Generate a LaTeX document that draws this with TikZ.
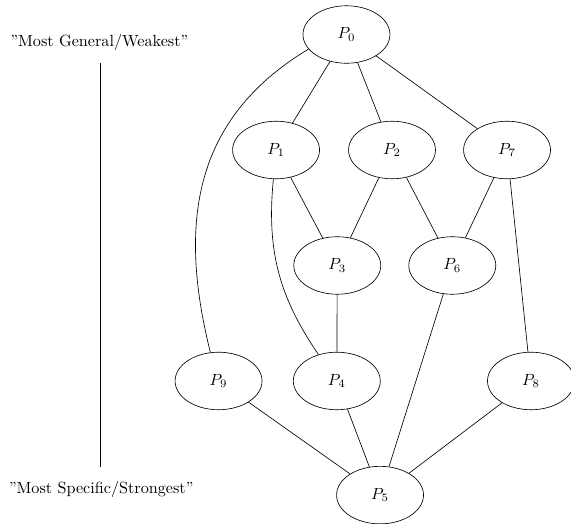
\documentclass[tikz,border=0pt]{standalone}
\usepackage{tikz}
\usetikzlibrary{positioning}
\usetikzlibrary{arrows,shapes}
\usetikzlibrary{calc}
\tikzstyle{vertex}=[ellipse,draw,minimum width=1.89cm,minimum height=1.25cm,inner sep=0pt]
\tikzstyle{edge} = [draw]
\tikzstyle{caption} = [inner sep=0pt]

\begin{document}
\begin{tikzpicture}[scale=1, auto,swap]
    \useasboundingbox (0,0) rectangle (12.41,-11.37);

    \foreach \pos/\name/\num in {{(7.53,-0.75)/p0/0}, {(6.00,-3.26)/p1/1}, {(8.52,-3.26)/p2/2}, {(11.02,-3.26)/p7/7}, {(7.33,-5.77)/p3/3}, {(9.83,-5.77)/p6/6}, {(4.75,-8.28)/p9/9}, {(7.32,-8.28)/p4/4}, {(11.54,-8.28)/p8/8}, {(8.26,-10.76)/p5/5}}
        \node[vertex] (\name) at \pos {$P_{\num}$};

    \foreach \source/\dest in {p0/p1, p0/p2, p0/p7, p1/p3, p2/p3, p2/p6, p7/p6, p7/p8, p3/p4, p6/p5, p9/p5, p4/p5, p8/p5}
            \path[edge] (\source) -- (\dest);

    \path[edge] (p0.201) .. controls +(211:3.0) and +(104:2.8) .. (p9.106);
    \path[edge] (p1) to[bend right=20] (p4);

    % scale on the left
    \node[caption] (general) at (2.16,-0.92) {"Most General/Weakest"};
    \node[caption] (specific) at (2.20,-10.63) {"Most Specific/Strongest"};
    \coordinate (top) at (2.17,-1.38);
    \coordinate (bottom) at (2.17,-10.15);
    \path[edge] (top) -- (bottom);

\end{tikzpicture}
\end{document}
